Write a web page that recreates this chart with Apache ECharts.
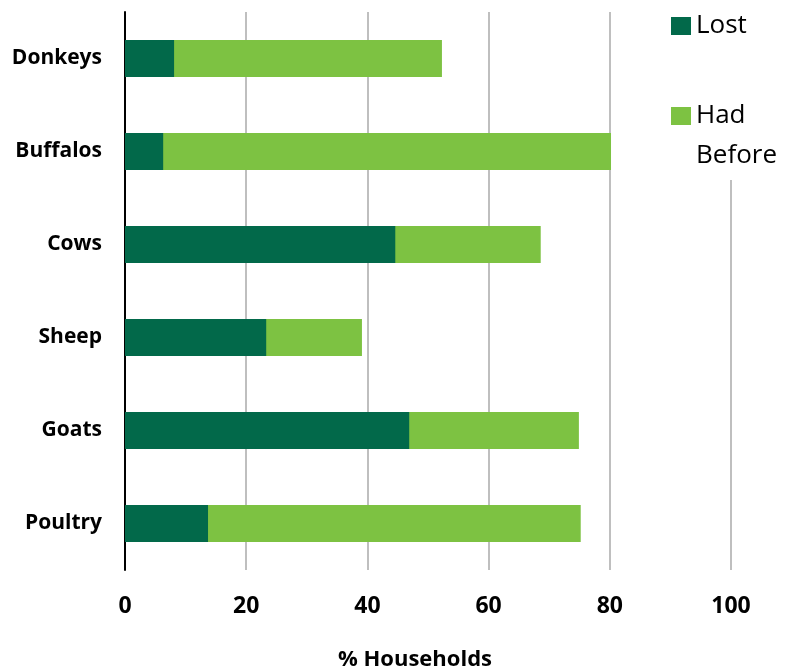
<!DOCTYPE html>
<html>
<head>
<meta charset="utf-8">
<script src="https://cdn.jsdelivr.net/npm/echarts@6/dist/echarts.min.js"></script>
<style>
  html, body { margin: 0; padding: 0; background: #fff; }
  #chart { width: 787px; height: 671px; }
</style>
</head>
<body>
<div id="chart"></div>
<script>
var categories = ['Donkeys', 'Buffalos', 'Cows', 'Sheep', 'Goats', 'Poultry'];
var lost = [8.1, 6.3, 44.6, 23.3, 46.9, 13.7];
var hadBefore = [52.3, 80.2, 68.6, 39.1, 74.9, 75.2];
var xTicks = [0, 20, 40, 60, 80, 100];

var myChart = echarts.init(document.getElementById('chart'));
var font = 'Open Sans';
var option = {
	animation: false,
	textStyle: { fontFamily: font },
	grid: { left: 125, right: 56, top: 12, bottom: 101, outerBoundsMode: 'none', containLabel: false },
	legend: {
		orient: 'vertical',
		left: 667,
		top: 2,
		itemWidth: 20,
		itemHeight: 18,
		itemGap: 10,
		icon: 'rect',
		backgroundColor: '#fff',
		padding: [4, 4, 4, 4],
		data: ['Lost', 'Had Before'],
		formatter: function (n) { return n === 'Had Before' ? '\nHad\nBefore' : n; }, //多加一行空行让"Had"和色块对齐
		textStyle: { fontSize: 26, color: '#000', fontFamily: font, lineHeight: 40 }
	},
	xAxis: {
		type: 'value',
		min: xTicks[0],
		max: xTicks[xTicks.length - 1],
		interval: 20,
		name: '% Households',
		nameLocation: 'middle',
		nameGap: 79,
		nameTextStyle: { fontSize: 22, fontWeight: 'bold', color: '#000', padding: [0, 26, 0, 0] },
		axisLine: { show: false },
		axisTick: { show: false },
		axisLabel: { fontSize: 23, fontWeight: 'bold', color: '#000', margin: 25 },
		splitLine: { show: true, lineStyle: { color: '#bfbfbf', width: 2 } }
	},
	yAxis: {
		type: 'category',
		data: categories,
		inverse: true,
		axisLine: { show: true, lineStyle: { color: '#000', width: 2 } },
		axisTick: { show: false },
		axisLabel: { fontSize: 21, fontWeight: 'bold', color: '#000', margin: 23 }
	},
	series: [{
		name: 'Had Before',
		type: 'bar',
		data: hadBefore,
		barWidth: 37,
		barGap: '-100%',
		itemStyle: { color: '#7dc242' },
		z: 2
	}, {
		name: 'Lost',
		type: 'bar',
		data: lost,
		barWidth: 37,
		itemStyle: { color: '#02694a' },
		z: 3
	}]
};
myChart.setOption(option);
</script>
</body>
</html>
